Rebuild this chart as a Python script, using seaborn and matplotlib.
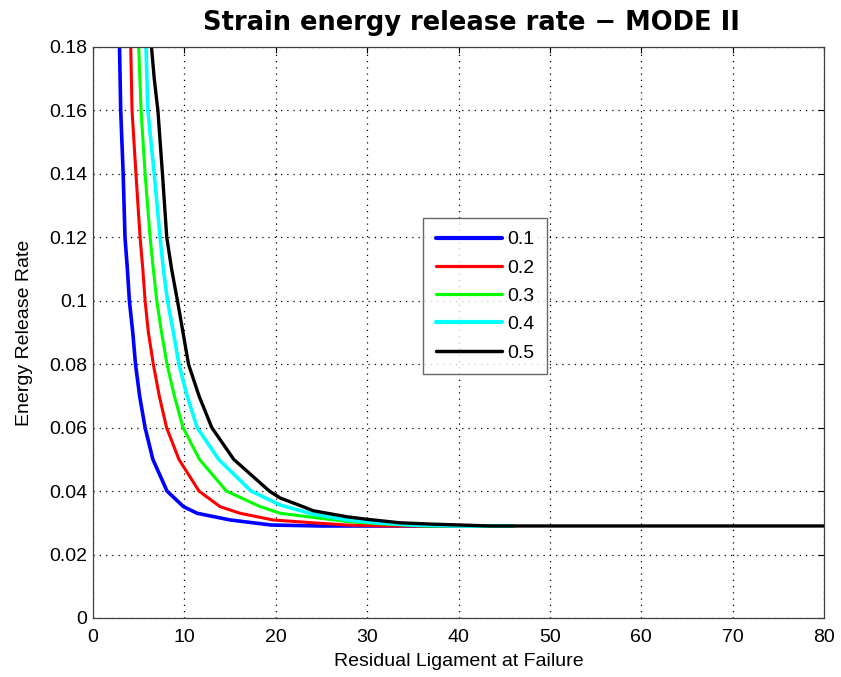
import numpy as np
import pandas as pd
import seaborn as sns
import matplotlib
matplotlib.use("Agg")
import matplotlib.pyplot as plt

# Curves (x = residual ligament, y = energy release rate)
x_01 = [2.9, 3.03, 3.3, 3.5, 3.76, 3.98, 4.35, 4.65, 5.1, 5.7, 6.55, 8.1, 9.9, 11.4, 15.0, 19.5, 25.0, 46.0]
y_01 = [0.18, 0.16, 0.14, 0.12, 0.11, 0.10, 0.09, 0.08, 0.07, 0.06, 0.05, 0.04, 0.0351, 0.033, 0.0309, 0.0293, 0.029, 0.029]

x_02 = [4.13, 4.27, 4.7, 5.15, 5.45, 5.7, 6.06, 6.6, 7.25, 8.05, 9.4, 11.6, 13.9, 16.1, 19.7, 24.1, 27.8, 32.0, 46.0]
y_02 = [0.18, 0.16, 0.14, 0.12, 0.11, 0.10, 0.09, 0.08, 0.07, 0.06, 0.05, 0.04, 0.0351, 0.033, 0.0309, 0.030, 0.0293, 0.029, 0.029]

x_03 = [5.0, 5.26, 5.7, 6.25, 6.6, 6.98, 7.5, 8.1, 8.9, 9.85, 11.65, 14.6, 18.3, 20.5, 24.1, 27.8, 31.4, 36.0, 46.0]
y_03 = [0.18, 0.16, 0.14, 0.12, 0.11, 0.10, 0.09, 0.08, 0.07, 0.06, 0.05, 0.04, 0.0351, 0.033, 0.0317, 0.0304, 0.0297, 0.029, 0.029]

x_04 = [5.8, 6.0, 6.7, 7.34, 7.7, 8.15, 8.8, 9.4, 10.3, 11.4, 13.75, 17.3, 20.5, 24.1, 27.8, 31.4, 35.1, 40.0, 46.0]
y_04 = [0.18, 0.16, 0.14, 0.12, 0.11, 0.10, 0.09, 0.08, 0.07, 0.06, 0.05, 0.04, 0.0356, 0.0327, 0.0309, 0.0299, 0.0293, 0.029, 0.029]

x_05 = [6.4, 6.7, 7.1, 7.6, 8.07, 8.6, 9.24, 9.85, 10.45, 11.6, 13.0, 15.4, 19.3, 20.5, 22.7, 24.1, 27.8, 30.0, 33.6, 36.9, 43.5, 80.0]
y_05 = [0.18, 0.17, 0.16, 0.14, 0.12, 0.11, 0.10, 0.09, 0.08, 0.07, 0.06, 0.05, 0.04, 0.0378, 0.0354, 0.0338, 0.0319, 0.0311, 0.030, 0.0296, 0.029, 0.029]

series_names = ["0.1", "0.2", "0.3", "0.4", "0.5"]
series_x = [x_01, x_02, x_03, x_04, x_05]
series_y = [y_01, y_02, y_03, y_04, y_05]
colors = ["#0000ff", "#ff0000", "#00ff00", "#00ffff", "#000000"]
widths = [2.6, 2.2, 2.2, 2.6, 2.4]
legend_widths = [3.0, 2.3, 2.3, 3.0, 2.5]

x_ticks = [0, 10, 20, 30, 40, 50, 60, 70, 80]
y_ticks = [0, 0.02, 0.04, 0.06, 0.08, 0.1, 0.12, 0.14, 0.16, 0.18]
y_tick_labels = ["0", "0.02", "0.04", "0.06", "0.08", "0.1", "0.12", "0.14", "0.16", "0.18"]

df = pd.concat(
    [pd.DataFrame({"x": xs, "y": ys, "ratio": name})
     for name, xs, ys in zip(series_names, series_x, series_y)],
    ignore_index=True,
)

sns.set_style("white")
plt.rcParams["font.family"] = ["Liberation Sans", "DejaVu Sans"]
plt.rcParams["text.color"] = "black"
plt.rcParams["axes.labelcolor"] = "black"

fig = plt.figure(figsize=(8.41, 6.77), dpi=100)
ax = fig.add_axes([0.1106, 0.0872, 0.8692, 0.8434])

for name, c, lw in zip(series_names, colors, widths):
    sub = df[df["ratio"] == name]
    sns.lineplot(data=sub, x="x", y="y", ax=ax, color=c, linewidth=lw,
                 label=name, sort=False, estimator=None)

ax.set_xlim(0, 80)
ax.set_ylim(0, 0.18)
ax.set_xticks(x_ticks)
ax.set_yticks(y_ticks)
ax.set_yticklabels(y_tick_labels)
ax.tick_params(direction="in", top=True, right=True, length=4, width=0.8,
               labelsize=14, colors="black")
ax.tick_params(axis="x", pad=8)
ax.tick_params(axis="y", pad=4)

ax.grid(True, linestyle=(0, (1, 4)), color="black", linewidth=0.9)
for s in ax.spines.values():
    s.set_visible(True)
    s.set_color("#404040")
    s.set_linewidth(0.9)

ax.set_xlabel("Residual Ligament at Failure", fontsize=14, labelpad=5, color="black")
ax.set_ylabel("Energy Release Rate", fontsize=14, labelpad=12, color="black")
ax.set_title("Strain energy release rate \u2212 MODE II", fontsize=18.5,
             fontweight="bold", family="DejaVu Sans", color="black",
             x=0.518, pad=12)

leg = ax.legend(loc="upper left", bbox_to_anchor=(0.452, 0.70), fontsize=14,
                frameon=True, fancybox=False, edgecolor="#404040",
                handlelength=3.4, handletextpad=0.25, labelspacing=0.55,
                borderpad=0.64, borderaxespad=0)
leg.get_frame().set_linewidth(1.0)
for line, lw in zip(leg.get_lines(), legend_widths):
    line.set_linewidth(lw)
for t in leg.get_texts():
    t.set_color("black")

fig.savefig("out.png", dpi=100)
